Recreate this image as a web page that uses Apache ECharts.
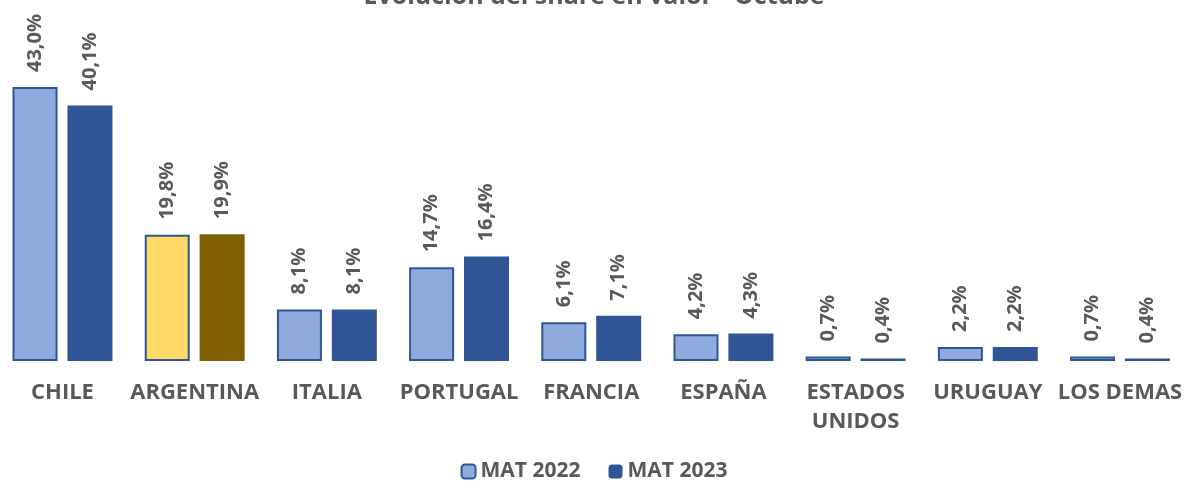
<!DOCTYPE html>
<html>
<head>
<meta charset="utf-8">
<script src="https://cdn.jsdelivr.net/npm/echarts@6/dist/echarts.min.js"></script>
<style>
  html, body { margin: 0; padding: 0; background: #ffffff; }
  #chart { width: 1188px; height: 489px; }
</style>
</head>
<body>
<div id="chart"></div>
<script>
// Share en valor por país de origen (%)
const categories = ['CHILE', 'ARGENTINA', 'ITALIA', 'PORTUGAL', 'FRANCIA', 'ESPAÑA', 'ESTADOS\nUNIDOS', 'URUGUAY', 'LOS DEMAS'];
const mat2022 = [43.0, 19.8, 8.1, 14.7, 6.1, 4.2, 0.7, 2.2, 0.7];
const mat2023 = [40.1, 19.9, 8.1, 16.4, 7.1, 4.3, 0.4, 2.2, 0.4];
const seriesNames = ['MAT 2022', 'MAT 2023'];
const highlightCategory = 'ARGENTINA';

const fontFamily = '"Open Sans", Lato, sans-serif';
const textColor = '#595959';

const fmt = v => v.toFixed(1).replace('.', ',') + '%';

const labelStyle = {
  show: true,
  position: 'top',
  rotate: 90,
  align: 'left',
  verticalAlign: 'middle',
  distance: 15,
  color: textColor,
  fontFamily: fontFamily,
  fontWeight: 'bold',
  fontSize: 20,
  formatter: p => fmt(p.value)
};

const data2022 = mat2022.map((v, i) => categories[i] === highlightCategory
  ? { value: v, itemStyle: { color: '#FFD966', borderColor: '#2F5597' } }
  : v);
const data2023 = mat2023.map((v, i) => categories[i] === highlightCategory
  ? { value: v, itemStyle: { color: '#7F6000', borderColor: '#7F6000' } }
  : v);

const chart = echarts.init(document.getElementById('chart'));
chart.setOption({
  animation: false,
  title: {
    text: 'Evolución del share en valor - Octube',
    left: 'center',
    top: -21,
    textStyle: { color: textColor, fontFamily: fontFamily, fontWeight: 'bold', fontSize: 25 }
  },
  grid: { left: -3.6, right: 1.9, top: 42.4, bottom: 128, containLabel: false, outerBoundsMode: 'none' },
  xAxis: {
    type: 'category',
    data: categories,
    axisLine: { show: false },
    axisTick: { show: false },
    axisLabel: {
      color: textColor,
      fontFamily: fontFamily,
      fontWeight: 'bold',
      fontSize: 22,
      margin: 17,
      lineHeight: 29,
      interval: 0
    }
  },
  yAxis: {
    type: 'value',
    min: 0,
    max: 50,
    show: false,
    splitLine: { show: false }
  },
  legend: {
    data: seriesNames,
    bottom: 2,
    left: 'center',
    itemWidth: 14,
    itemHeight: 14,
    itemGap: 28,
    textStyle: { color: textColor, fontFamily: fontFamily, fontWeight: 'bold', fontSize: 21 }
  },
  series: [
    {
      name: seriesNames[0],
      type: 'bar',
      data: data2022,
      barWidth: 45,
      barGap: '22%',
      itemStyle: { color: '#8FAADC', borderColor: '#2F5597', borderWidth: 2 },
      label: labelStyle
    },
    {
      name: seriesNames[1],
      type: 'bar',
      data: data2023,
      barWidth: 45,
      itemStyle: { color: '#2F5597', borderColor: '#2F5597', borderWidth: 0 },
      label: labelStyle
    }
  ]
});
</script>
</body>
</html>
